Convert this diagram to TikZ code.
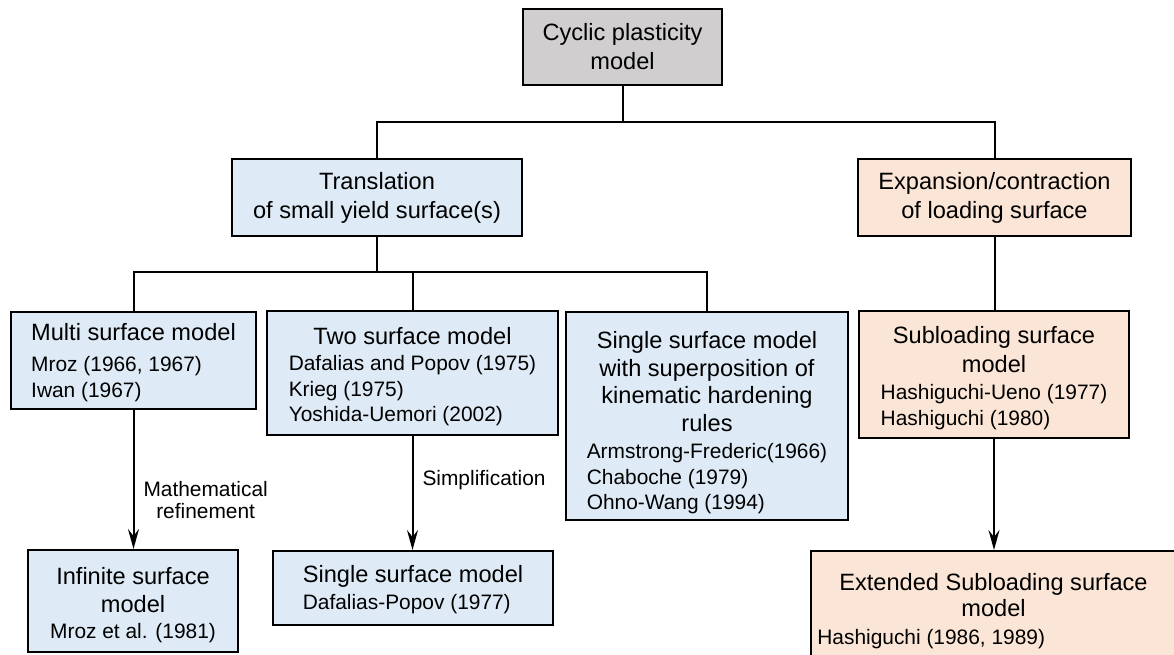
\documentclass[tikz,border=0pt]{standalone}
\usepackage{fontspec}
\setmainfont{Liberation Sans}
\usetikzlibrary{arrows.meta}
\definecolor{boxgray}{HTML}{D0CECE}
\definecolor{boxblue}{HTML}{DEEBF7}
\definecolor{boxpeach}{HTML}{FBE5D6}
\newcommand{\bigf}{\fontsize{23.6}{28}\selectfont}
\newcommand{\smallf}{\fontsize{20.9}{25.5}\selectfont}
\newcommand{\lblf}{\fontsize{20.9}{22}\selectfont}
\newcommand{\ttl}[1]{\multicolumn{1}{@{}c@{}}{\bigf #1}}
\newcommand{\dropby}[2]{\raisebox{0pt}[\dimexpr\height+#1\relax]{#2}}
\begin{document}
\begin{tikzpicture}[x=1pt,y=-1pt,
  hbox/.style={draw, line width=2pt, inner sep=0pt, align=center, font=\bigf},
  rbox/.style={draw, line width=2pt, inner sep=0pt, font=\smallf},
  link/.style={line width=2pt},
  arr/.style={line width=2pt, -{Stealth[length=20pt,width=11pt,inset=7pt]}},
  lbl/.style={right, inner sep=9pt, align=center, font=\lblf}]
\clip (0,0) rectangle (1174,655);
% head boxes
\node[hbox, fill=boxgray, minimum width=199pt, minimum height=76pt] (top) at (622.5,47) {Cyclic plasticity\\[1pt]model};
\node[hbox, fill=boxblue, minimum width=290pt, minimum height=77pt] (trans) at (377,197.5) {Translation\\[1pt]of small yield surface(s)};
\node[hbox, fill=boxpeach, minimum width=273pt, minimum height=77pt] (expan) at (994.5,197.5) {Expansion/contraction\\[1pt]of loading surface};
% model boxes
\node[rbox, fill=boxblue, minimum width=245pt, minimum height=97pt] (multi) at (133.5,360.5) {\dropby{6pt}{\begin{tabular}{@{}l@{}}\ttl{Multi surface model}\\[6pt] Mroz (1966, 1967)\\ Iwan (1967)\end{tabular}}};
\node[rbox, fill=boxblue, minimum width=291pt, minimum height=124pt] (two) at (412.5,373) {\dropby{10pt}{\begin{tabular}{@{}l@{}}\ttl{Two surface model}\\[1pt] Dafalias and Popov (1975)\\ Krieg (1975)\\ Yoshida-Uemori (2002)\end{tabular}}};
\node[rbox, fill=boxblue, minimum width=282pt, minimum height=208pt] (superpos) at (707,416) {\dropby{16pt}{\begin{tabular}{@{}l@{}}\ttl{Single surface model}\\[2pt]\ttl{with superposition of}\\[2pt]\ttl{kinematic hardening}\\[2pt]\ttl{rules}\\[2pt] Armstrong-Frederic(1966)\\ Chaboche (1979)\\ Ohno-Wang (1994)\end{tabular}}};
\node[rbox, fill=boxpeach, minimum width=270pt, minimum height=127pt] (sub) at (994,374.5) {\dropby{10pt}{\begin{tabular}{@{}l@{}}\ttl{Subloading surface}\\[3pt]\ttl{model}\\[2pt] Hashiguchi-Ueno (1977)\\ Hashiguchi (1980)\end{tabular}}};
\node[rbox, fill=boxblue, minimum width=210pt, minimum height=102pt] (inf) at (133,601) {\dropby{10pt}{\begin{tabular}{@{}l@{}}\ttl{Infinite surface}\\[3pt]\ttl{model}\\[0pt] Mroz et al. (1981)\end{tabular}}};
\node[rbox, fill=boxblue, minimum width=280pt, minimum height=74pt] (single) at (413,588) {\dropby{6pt}{\begin{tabular}{@{}l@{}}\ttl{Single surface model}\\[1pt] Dafalias-Popov (1977)\end{tabular}}};
\node[rbox, fill=boxpeach, minimum width=365pt, minimum height=116pt] (ext) at (993.5,609) {\dropby{6pt}{\begin{tabular}{@{}l@{}}\ttl{Extended Subloading surface}\\[1pt]\ttl{model}\\[2pt]\hspace*{-22pt}Hashiguchi (1986, 1989)\end{tabular}}};
% tree lines
\coordinate (jA) at (622.5,122);
\coordinate (jB) at (377,272);
\draw[link] (top) -- (jA);
\draw[link] (trans) |- (jA) -| (expan);
\draw[link] (trans) -- (jB);
\draw[link] (multi) |- (jB) -| (superpos);
\draw[link] (two) -- (two |- jB);
\draw[link] (expan) -- (expan |- sub.north);
% arrows
\draw[arr] (multi) -- node[lbl, pos=0.65] (refine) {Mathematical\\refinement} (multi |- inf.north);
\draw[arr] (two) -- node[lbl, pos=0.39] (simpl) {Simplification} (two |- single.north);
\draw[arr] (sub) -- (sub |- ext.north);
\end{tikzpicture}
\end{document}
